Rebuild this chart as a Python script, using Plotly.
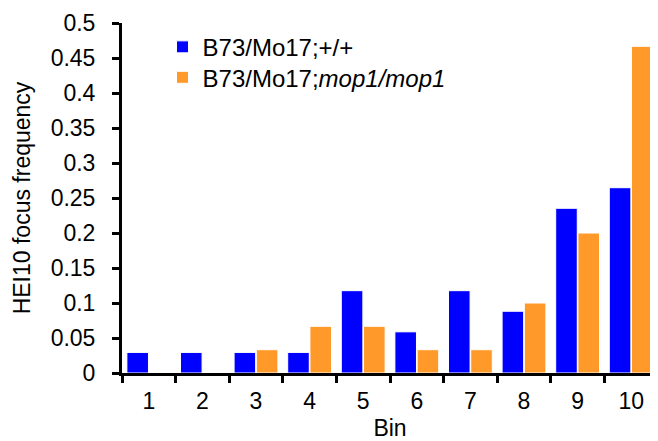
import plotly.graph_objects as go

bins = ["1", "2", "3", "4", "5", "6", "7", "8", "9", "10"]
wild_type = [0.0294, 0.0294, 0.0294, 0.0294, 0.1176, 0.0588, 0.1176, 0.0882, 0.2353, 0.2647]
mop1 = [0, 0, 0.0333, 0.0667, 0.0667, 0.0333, 0.0333, 0.1, 0.2, 0.4667]
y_ticks = [0, 0.05, 0.1, 0.15, 0.2, 0.25, 0.3, 0.35, 0.4, 0.45, 0.5]
y_tick_text = ["0", "0.05", "0.1", "0.15", "0.2", "0.25", "0.3", "0.35", "0.4", "0.45", "0.5"]

FONT = "Liberation Sans, Arial, sans-serif"
FS = 23
LFS = 24

fig = go.Figure()
fig.add_trace(go.Bar(x=bins, y=wild_type, name="B73/Mo17;+/+",
                     marker=dict(color="#0000FF", line=dict(color="#FFFFFF", width=1)),
                     legend="legend"))
fig.add_trace(go.Bar(x=bins, y=mop1, name="B73/Mo17;<i>mop1/mop1</i>",
                     marker=dict(color="#FF9A2A", line=dict(color="#FFFFFF", width=1)),
                     legend="legend2"))

legend_common = dict(xanchor="left", yanchor="top", bgcolor="rgba(0,0,0,0)",
                     font=dict(size=LFS))

fig.update_layout(
    width=650, height=433,
    margin=dict(l=114, r=0, t=15, b=68, autoexpand=False),
    paper_bgcolor="white", plot_bgcolor="white",
    font=dict(family=FONT, size=FS, color="black"),
    barmode="group", bargap=0.17, bargroupgap=0.03,
    showlegend=True,
    legend=dict(x=0.0756, y=0.995, **legend_common),
    legend2=dict(x=0.0756, y=0.908, **legend_common),
    xaxis=dict(
        title=dict(text="Bin", standoff=13, font=dict(size=FS)),
        showline=True, linecolor="black", linewidth=3,
        ticks="outside", ticklen=7, tickwidth=3, tickcolor="black",
        tickson="boundaries", showgrid=False, zeroline=False,
        ticklabelstandoff=5,
        tickfont=dict(size=FS), automargin=False,
    ),
    yaxis=dict(
        title=dict(text="HEI10 focus frequency", standoff=14, font=dict(size=FS)),
        range=[0, 0.5], tickvals=y_ticks, ticktext=y_tick_text,
        showline=True, linecolor="black", linewidth=3,
        ticks="outside", ticklen=7, tickwidth=3, tickcolor="black",
        ticklabelstandoff=12,
        showgrid=False, zeroline=False, tickfont=dict(size=FS), automargin=False,
    ),
)

fig.write_html("out.html")
